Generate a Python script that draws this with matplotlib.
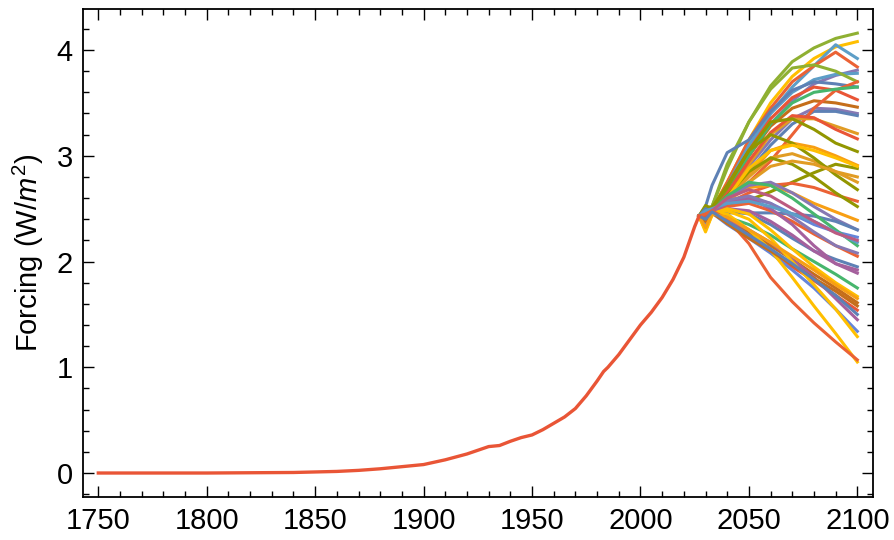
import matplotlib
matplotlib.use("Agg")
import matplotlib.pyplot as plt
from matplotlib.ticker import MultipleLocator

plt.rcParams['font.family'] = ['Liberation Sans', 'DejaVu Sans']
plt.rcParams['mathtext.fontset'] = 'custom'
plt.rcParams['mathtext.rm'] = 'Liberation Sans'
plt.rcParams['mathtext.it'] = 'Liberation Sans:italic'

# historical forcing, shared by all scenarios
hist_years = [1750, 1800, 1840, 1860, 1870, 1880, 1890, 1900, 1910, 1920, 1930,
              1935, 1940, 1945, 1950, 1955, 1960, 1965, 1970, 1975, 1980, 1983,
              1985, 1990, 1995, 2000, 2005, 2010, 2015, 2020, 2025, 2027]
hist_vals = [0.0, 0.0, 0.005, 0.015, 0.025, 0.04, 0.06, 0.08, 0.125, 0.18, 0.25,
             0.26, 0.30, 0.335, 0.36, 0.41, 0.47, 0.53, 0.61, 0.73, 0.87, 0.96,
             1.0, 1.12, 1.26, 1.40, 1.52, 1.66, 1.83, 2.04, 2.33, 2.43]

# scenario years (after the shared history)
scn_years = [2030, 2033, 2040, 2050, 2060, 2070, 2080, 2090, 2100]

s01 = [2.50, 2.52, 2.92, 3.32, 3.66, 3.89, 4.02, 4.11, 4.16]
s02 = [2.45, 2.50, 2.75, 3.15, 3.50, 3.75, 3.92, 4.03, 4.08]
s03 = [2.40, 2.48, 2.70, 3.05, 3.40, 3.65, 3.85, 4.05, 3.92]
s04 = [2.42, 2.48, 2.75, 3.15, 3.45, 3.70, 3.85, 3.98, 3.84]
s05 = [2.38, 2.47, 2.65, 3.00, 3.30, 3.52, 3.68, 3.76, 3.81]
s06 = [2.44, 2.49, 2.72, 3.10, 3.40, 3.60, 3.72, 3.77, 3.78]
s07 = [2.50, 2.52, 2.88, 3.32, 3.63, 3.83, 3.86, 3.80, 3.70]
s08 = [2.52, 2.72, 3.03, 3.15, 3.42, 3.62, 3.70, 3.68, 3.65]
s09 = [2.42, 2.48, 2.72, 3.05, 3.35, 3.55, 3.65, 3.62, 3.53]
s10 = [2.40, 2.48, 2.68, 3.00, 3.28, 3.45, 3.52, 3.50, 3.46]
s11 = [2.36, 2.47, 2.62, 2.90, 3.15, 3.35, 3.45, 3.44, 3.40]
s12 = [2.35, 2.46, 2.60, 2.85, 3.10, 3.30, 3.42, 3.42, 3.38]
s13 = [2.40, 2.47, 2.60, 2.75, 2.95, 3.20, 3.45, 3.62, 3.70]
s14 = [2.45, 2.50, 2.70, 3.00, 3.30, 3.50, 3.60, 3.63, 3.65]
s15 = [2.33, 2.45, 2.62, 2.92, 3.20, 3.35, 3.35, 3.28, 3.21]
s16 = [2.36, 2.46, 2.64, 2.95, 3.22, 3.38, 3.36, 3.25, 3.16]
s17 = [2.48, 2.51, 2.70, 3.05, 3.32, 3.35, 3.25, 3.12, 3.04]
s18 = [2.30, 2.45, 2.58, 2.82, 3.05, 3.12, 3.08, 3.00, 2.91]
s19 = [2.53, 2.50, 2.52, 2.58, 2.66, 2.75, 2.84, 2.92, 2.88]
s20 = [2.32, 2.45, 2.58, 2.80, 2.98, 3.02, 2.95, 2.85, 2.75]
s21 = [2.50, 2.51, 2.72, 3.05, 3.20, 3.12, 2.98, 2.82, 2.68]
s22 = [2.38, 2.46, 2.55, 2.65, 2.72, 2.74, 2.70, 2.63, 2.57]
s23 = [2.45, 2.49, 2.62, 2.85, 2.98, 2.92, 2.80, 2.65, 2.52]
s24 = [2.30, 2.44, 2.60, 2.88, 3.05, 3.10, 3.05, 2.98, 2.90]
s25 = [2.32, 2.45, 2.56, 2.75, 2.90, 2.95, 2.92, 2.85, 2.80]
s26 = [2.35, 2.46, 2.58, 2.70, 2.72, 2.65, 2.55, 2.47, 2.39]
s27 = [2.40, 2.47, 2.60, 2.72, 2.75, 2.65, 2.52, 2.40, 2.30]
s28 = [2.50, 2.47, 2.46, 2.46, 2.46, 2.45, 2.43, 2.38, 2.30]
s29 = [2.42, 2.47, 2.55, 2.60, 2.55, 2.45, 2.35, 2.28, 2.23]
s30 = [2.45, 2.48, 2.62, 2.75, 2.72, 2.60, 2.45, 2.30, 2.15]
s31 = [2.38, 2.46, 2.52, 2.55, 2.48, 2.38, 2.26, 2.15, 2.05]
s32 = [2.36, 2.46, 2.48, 2.45, 2.35, 2.22, 2.10, 2.02, 1.95]
s33 = [2.40, 2.47, 2.55, 2.60, 2.50, 2.35, 2.15, 1.98, 1.89]
s34 = [2.35, 2.46, 2.50, 2.48, 2.38, 2.25, 2.10, 1.98, 1.92]
s35 = [2.42, 2.48, 2.58, 2.62, 2.55, 2.42, 2.28, 2.15, 2.08]
s36 = [2.48, 2.50, 2.55, 2.57, 2.52, 2.45, 2.38, 2.28, 2.18]
s37 = [2.44, 2.48, 2.60, 2.68, 2.62, 2.50, 2.38, 2.27, 2.20]
s38 = [2.40, 2.47, 2.42, 2.35, 2.25, 2.12, 2.00, 1.88, 1.75]
s39 = [2.32, 2.45, 2.50, 2.45, 2.30, 2.12, 1.95, 1.80, 1.67]
s40 = [2.36, 2.46, 2.40, 2.28, 2.15, 2.02, 1.88, 1.75, 1.61]
s41 = [2.42, 2.47, 2.38, 2.25, 2.10, 1.95, 1.82, 1.68, 1.54]
s42 = [2.38, 2.46, 2.40, 2.30, 2.18, 2.02, 1.85, 1.65, 1.45]
s43 = [2.34, 2.46, 2.35, 2.22, 2.08, 1.92, 1.75, 1.55, 1.34]
s44 = [2.30, 2.45, 2.48, 2.40, 2.22, 2.00, 1.78, 1.55, 1.29]
s45 = [2.28, 2.44, 2.45, 2.30, 2.11, 1.85, 1.58, 1.32, 1.05]
s46 = [2.45, 2.48, 2.40, 2.17, 1.85, 1.62, 1.42, 1.24, 1.07]
s47 = [2.38, 2.46, 2.36, 2.22, 2.10, 1.97, 1.84, 1.72, 1.58]
s48 = [2.32, 2.45, 2.42, 2.30, 2.18, 2.05, 1.92, 1.78, 1.65]
s49 = [2.40, 2.47, 2.38, 2.25, 2.12, 1.98, 1.83, 1.68, 1.50]

scenarios = [s01, s02, s03, s04, s05, s06, s07, s08, s09, s10,
             s11, s12, s13, s14, s15, s16, s17, s18, s19, s20,
             s21, s22, s23, s24, s25, s26, s27, s28, s29, s30,
             s31, s32, s33, s34, s35, s36, s37, s38, s39, s40,
             s41, s42, s43, s44, s45, s46, s47, s48, s49]

# Mathematica default palette
pal = {'blue': '#5E81B5', 'orange': '#E19C24', 'green': '#8FB032', 'red': '#EB6235',
       'purple': '#8778B3', 'brown': '#C56E1A', 'lblue': '#5D9EC7', 'yellow': '#FFBF00',
       'magenta': '#A5609D', 'olive': '#929600', 'red2': '#E95536', 'blue2': '#6685D9',
       'orange2': '#F89F13', 'pink': '#BC5B80', 'green2': '#47B66D'}

scn_colors = ['green', 'yellow', 'lblue', 'red', 'purple', 'lblue', 'green', 'blue', 'red2', 'brown',
              'purple', 'blue', 'red', 'green2', 'orange', 'red2', 'olive', 'orange2', 'olive', 'orange',
              'olive', 'red', 'olive', 'yellow', 'orange', 'orange2', 'purple', 'blue', 'blue2', 'green2',
              'red', 'blue', 'magenta', 'magenta', 'purple', 'lblue', 'pink', 'green2', 'yellow', 'brown',
              'red2', 'magenta', 'blue2', 'yellow', 'yellow', 'red', 'brown', 'orange2', 'blue']

fig = plt.figure(figsize=(8.95, 5.4), dpi=100)
ax = fig.add_axes([0.0924, 0.0796, 0.8827, 0.9037])

for vals, c in zip(scenarios, scn_colors):
    ax.plot([hist_years[-1]] + scn_years, [hist_vals[-1]] + vals,
            color=pal[c], lw=2.2, solid_joinstyle='round')

ax.plot(hist_years, hist_vals, color='#E95536', lw=2.4)

ax.set_xlim(1742.8, 2107.1)
ax.set_ylim(-0.227, 4.388)
ax.xaxis.set_major_locator(MultipleLocator(50))
ax.xaxis.set_minor_locator(MultipleLocator(10))
ax.yaxis.set_major_locator(MultipleLocator(1))
ax.yaxis.set_minor_locator(MultipleLocator(0.2))
ax.tick_params(which='both', direction='in', top=True, right=True, width=1.0, color='black')
ax.tick_params(which='major', length=8, labelsize=21, pad=7)
ax.tick_params(which='minor', length=4.5)
for sp in ax.spines.values():
    sp.set_linewidth(1.3)

ax.set_ylabel('Forcing (W/$m^2$)', fontsize=21, labelpad=8)

fig.savefig('out.png', dpi=100)
